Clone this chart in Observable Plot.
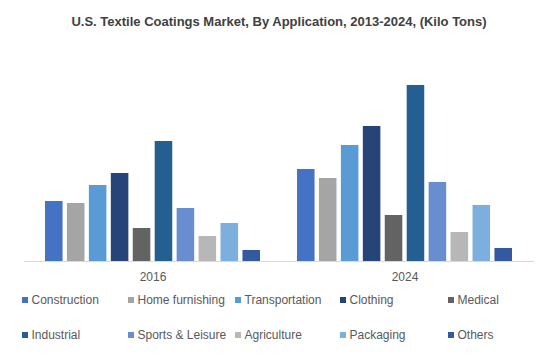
<!DOCTYPE html>
<html><head><meta charset="utf-8">
<script src="https://cdn.jsdelivr.net/npm/d3@7"></script>
<script src="https://cdn.jsdelivr.net/npm/@observablehq/plot@0.6"></script>
<style>
body{margin:0;background:#fff;font-family:"Liberation Sans",Arial,sans-serif;}
#wrap{position:relative;width:558px;height:362px;overflow:hidden;background:#fff}
#title{position:absolute;top:14px;left:0;width:558px;text-align:center;font-weight:bold;font-size:13px;line-height:16px;color:#404040}
#chart{position:absolute;left:0;top:40px}
.sw{position:absolute;width:6px;height:6px}
.lt{position:absolute;font-size:12px;line-height:14px;color:#595959;white-space:nowrap}
</style></head>
<body>
<div id="wrap">
  <div id="title">U.S. Textile Coatings Market, By Application, 2013-2024, (Kilo Tons)</div>
  <div id="chart"></div>
  <div id="legend"></div>
</div>
<script>
const years = ["2016", "2024"];
const categories = ["Construction", "Home furnishing", "Transportation", "Clothing", "Medical",
  "Industrial", "Sports & Leisure", "Agriculture", "Packaging", "Others"];
const values2016 = [60, 58, 76, 88, 33, 120, 53, 25, 38, 11];
const values2024 = [92, 83, 116, 135, 46, 176, 79, 29, 56, 13];
const colors = ["#4472C4", "#A5A5A5", "#5B9BD5", "#264478", "#636363",
  "#255E91", "#698ED0", "#B7B7B7", "#7CAFDD", "#335AA1"];

const data = [];
categories.forEach((c, i) => {
  data.push({year: years[0], category: c, value: values2016[i]});
  data.push({year: years[1], category: c, value: values2024[i]});
});

const chart = Plot.plot({
  width: 558,
  height: 245,
  marginTop: 21,
  marginBottom: 24,
  marginLeft: 26.5,
  marginRight: 27.5,
  style: {fontFamily: "'Liberation Sans', Arial, sans-serif", fontSize: "12px", color: "#595959", background: "#fff"},
  fx: {domain: years, padding: 0, round: false, label: null, axis: "bottom", tickSize: 0, tickPadding: 10.5},
  x: {domain: categories, axis: null, round: false, paddingInner: 0.2, paddingOuter: 0.843},
  y: {domain: [0, 200], axis: null},
  color: {domain: categories, range: colors},
  marks: [
    Plot.ruleY([0], {stroke: "#d9d9d9", insetLeft: -2.5, insetRight: -3.5}),
    Plot.barY(data, {fx: "year", x: "category", y: "value", fill: "category"})
  ]
});
document.getElementById("chart").appendChild(chart);

const legend = document.getElementById("legend");
const colX = [22, 128, 235, 340, 448];
const rowCenter = [299.5, 335];
categories.forEach((c, i) => {
  const r = Math.floor(i / 5), k = i % 5;
  const sw = document.createElement("div");
  sw.className = "sw";
  sw.style.left = colX[k] + "px";
  sw.style.top = (rowCenter[r] - 3) + "px";
  sw.style.background = colors[i];
  legend.appendChild(sw);
  const t = document.createElement("div");
  t.className = "lt";
  t.style.left = (colX[k] + 9.5) + "px";
  t.style.top = (rowCenter[r] - 6.9) + "px";
  t.textContent = c;
  legend.appendChild(t);
});
</script>
</body></html>
